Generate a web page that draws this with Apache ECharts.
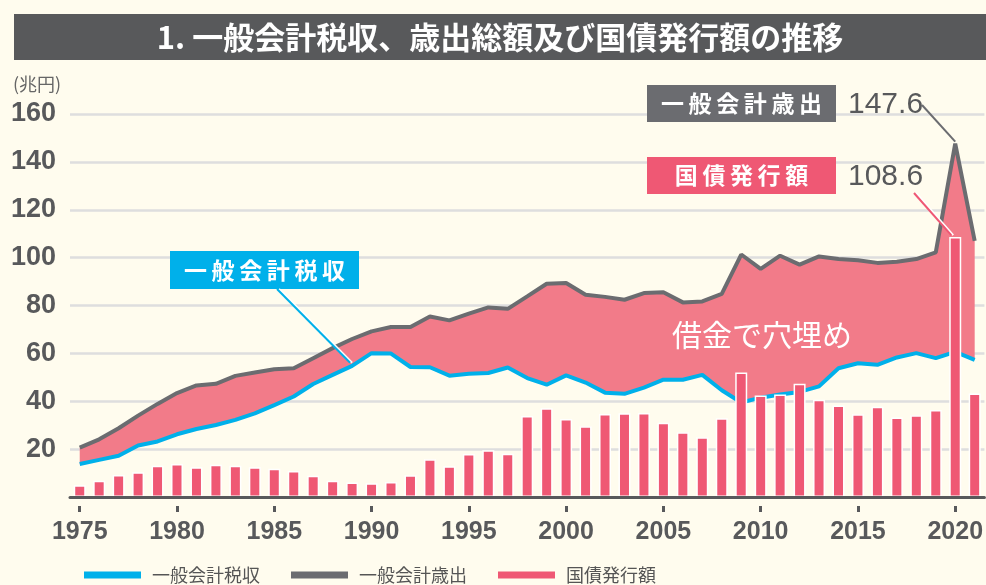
<!DOCTYPE html>
<html lang="ja">
<head>
<meta charset="UTF-8">
<title>一般会計税収、歳出総額及び国債発行額の推移</title>
<script src="https://cdn.jsdelivr.net/npm/echarts@6/dist/echarts.min.js"></script>
<style>
    html, body {margin: 0; padding: 0; background: #fffcee;}
    #chart {width: 986px; height: 585px;}
</style>
</head>
<body>
<div id="chart"></div>
<script>
    // 兆円
    var years = ['1975', '1976', '1977', '1978', '1979', '1980', '1981', '1982', '1983', '1984',
        '1985', '1986', '1987', '1988', '1989', '1990', '1991', '1992', '1993', '1994',
        '1995', '1996', '1997', '1998', '1999', '2000', '2001', '2002', '2003', '2004',
        '2005', '2006', '2007', '2008', '2009', '2010', '2011', '2012', '2013', '2014',
        '2015', '2016', '2017', '2018', '2019', '2020', '2021'];

    var revenue = [13.8, 15.5, 17.2, 21.5, 23.2, 26.2, 28.4, 30.1, 32.2, 34.9,
        38.4, 42.0, 47.2, 51.0, 54.8, 60.1, 59.9, 54.3, 54.2, 50.7,
        51.5, 51.8, 54.1, 49.7, 46.9, 50.8, 47.8, 43.6, 43.1, 45.7,
        49.0, 49.0, 51.0, 44.6, 39.5, 41.5, 42.8, 43.9, 46.2, 53.8,
        55.9, 55.2, 58.3, 60.1, 58.0, 60.6, 57.3];

    var spending = [20.6, 24.1, 28.7, 34.0, 38.9, 43.4, 46.6, 47.3, 50.6, 52.0,
        53.4, 53.8, 58.0, 62.2, 66.0, 69.2, 71.0, 71.0, 75.4, 73.8,
        76.6, 79.2, 78.6, 83.8, 89.1, 89.4, 84.5, 83.6, 82.4, 85.2,
        85.5, 81.3, 81.7, 84.9, 101.3, 95.3, 100.8, 97.1, 100.5, 99.4,
        98.9, 97.8, 98.3, 99.4, 102.2, 147.6, 107.0];

    var bonds = [4.9, 6.8, 9.2, 10.3, 13.1, 13.8, 12.4, 13.5, 13.1, 12.4,
        11.8, 10.9, 8.9, 6.8, 6.1, 5.7, 6.3, 9.1, 15.8, 12.8,
        18.0, 19.5, 18.1, 33.8, 37.1, 32.6, 29.6, 34.7, 35.0, 35.1,
        31.0, 27.1, 25.0, 32.9, 52.0, 42.4, 42.8, 47.3, 40.6, 38.2,
        34.6, 37.7, 33.2, 34.2, 36.3, 108.6, 43.2];

    var yTicks = [0, 20, 40, 60, 80, 100, 120, 140, 160];

    var BLUE = '#00b0ea', GRAY = '#6b6c70', PINK = '#ef5874', FILL = '#f27b89';
    var NUM = '"Liberation Sans Narrow", "Liberation Sans", Arial, sans-serif';
    var JP = '"Noto Sans CJK JP", sans-serif';

    // gap between spending and revenue, filled as a stacked band
    var gap = spending.map(function (v, i) { return +(v - revenue[i]).toFixed(1); });

    var chart = echarts.init(document.getElementById('chart'));

    var option = {
        backgroundColor: '#fffcee',
        animation: false,
        grid: {left: 70, top: 114, width: 918, bottom: 88},
        legend: {
            left: 79, top: 561,
            itemWidth: 57, itemHeight: 7, itemGap: 31,
            itemStyle: {borderWidth: 0},
            textStyle: {color: '#555', fontSize: 18, fontFamily: JP, padding: [0, 0, 0, 6]},
            data: [
                {name: '一般会計税収', icon: 'rect'},
                {name: '一般会計歳出', icon: 'rect'},
                {name: '国債発行額', icon: 'rect'}
            ]
        },
        xAxis: [{
            type: 'category', data: years, boundaryGap: true,
            axisLine: {lineStyle: {color: '#58595b', width: 3}},
            axisTick: {show: false},
            axisLabel: {show: false},
            z: 6
        }, {
            type: 'category', data: years, boundaryGap: true, position: 'bottom', offset: 9,
            axisLine: {show: false},
            axisTick: {
                show: true, alignWithLabel: true, length: 6,
                lineStyle: {color: '#58595b', width: 3},
                interval: function (i) { return i % 5 === 0; }
            },
            axisLabel: {
                interval: function (i) { return i % 5 === 0; },
                color: '#58595b', fontSize: 25, fontWeight: 'bold', fontFamily: NUM, margin: 14
            }
        }],
        yAxis: {
            type: 'value', min: yTicks[0], max: yTicks[yTicks.length - 1], interval: 20,
            axisLine: {show: false},
            axisTick: {show: false},
            splitLine: {lineStyle: {color: '#dedede', width: 2.5}},
            axisLabel: {
                color: '#58595b', fontSize: 27, fontWeight: 'bold', fontFamily: NUM, margin: 14,
                formatter: function (v) { return v === 0 ? '' : v; }
            }
        },
        series: [
            {name: 'base', type: 'line', stack: 'gap', data: revenue, symbol: 'none',
                lineStyle: {width: 0}, silent: true, z: 1},
            {name: 'fill', type: 'line', stack: 'gap', data: gap, symbol: 'none',
                lineStyle: {width: 0}, areaStyle: {color: FILL, opacity: 1}, silent: true, z: 1},
            {name: '一般会計税収', type: 'line', data: revenue, symbol: 'none',
                lineStyle: {color: BLUE, width: 4}, itemStyle: {color: BLUE}, z: 3},
            {name: '一般会計歳出', type: 'line', data: spending, symbol: 'none',
                lineStyle: {color: GRAY, width: 4}, itemStyle: {color: GRAY}, z: 3},
            {name: '国債発行額', type: 'bar', data: bonds, barWidth: 12,
                itemStyle: {color: PINK, borderColor: '#fff', borderWidth: 1.5}, z: 5}
        ]
    };
    chart.setOption(option);

    function spaced(s) { return s.split('').join('\u2009'); }

    function labelBox(x, y, w, h, color, text) {
        return {
            type: 'group', z: 20,
            children: [
                {type: 'rect', shape: {x: x, y: y, width: w, height: h}, style: {fill: color}},
                {type: 'text', x: x + w / 2, y: y + h / 2,
                    style: {text: spaced(text), fill: '#fff', font: 'bold 23px ' + JP,
                        align: 'center', verticalAlign: 'middle'}}
            ]
        };
    }

    function leader(x1, y1, x2, y2, color, edge) {
        var items = [];
        if (edge) {
            items.push({type: 'line', z: 19, shape: {x1: x1 + 2, y1: y1, x2: x2 + 2, y2: y2},
                style: {stroke: '#fff', lineWidth: 2}});
        }
        items.push({type: 'line', z: 19, shape: {x1: x1, y1: y1, x2: x2, y2: y2},
            style: {stroke: color, lineWidth: 2}});
        return items;
    }

    var pTax = chart.convertToPixel({gridIndex: 0}, ['1989', revenue[14]]);
    var pSpend = chart.convertToPixel({gridIndex: 0}, ['2020', spending[45]]);
    var pBond = chart.convertToPixel({gridIndex: 0}, ['2020', bonds[45]]);

    var graphics = [
        {type: 'rect', shape: {x: 14, y: 14, width: 972, height: 46}, style: {fill: '#58595b'}},
        {type: 'text', x: 500, y: 37, style: {text: '1. 一般会計税収、歳出総額及び国債発行額の推移',
            fill: '#fff', font: 'bold 31px ' + JP, align: 'center', verticalAlign: 'middle'}},
        {type: 'text', x: 13, y: 84, style: {text: '(兆円)', fill: '#666', font: '18px ' + JP,
            verticalAlign: 'middle'}},
        labelBox(170, 251, 189, 38, BLUE, '一般会計税収'),
        labelBox(647, 85, 189, 37, GRAY, '一般会計歳出'),
        labelBox(647, 157, 189, 37, PINK, '国債発行額'),
        {type: 'text', x: 848, y: 105, z: 20, style: {text: '147.6', fill: '#58595b',
            font: '30px ' + NUM, verticalAlign: 'middle'}},
        {type: 'text', x: 848, y: 177, z: 20, style: {text: '108.6', fill: '#58595b',
            font: '30px ' + NUM, verticalAlign: 'middle'}},
        {type: 'text', x: 762, y: 335, z: 20, style: {text: '借金で穴埋め', fill: '#fff',
            font: '30px ' + JP, align: 'center', verticalAlign: 'middle'}}
    ];
    graphics = graphics
        .concat(leader(277, 289, pTax[0] - 2, pTax[1] - 3, BLUE, true))
        .concat(leader(922, 105, pSpend[0], pSpend[1] - 2, GRAY, false))
        .concat(leader(914, 193, pBond[0] - 4, pBond[1] - 2, PINK, true));

    chart.setOption({graphic: graphics});
</script>
</body>
</html>
